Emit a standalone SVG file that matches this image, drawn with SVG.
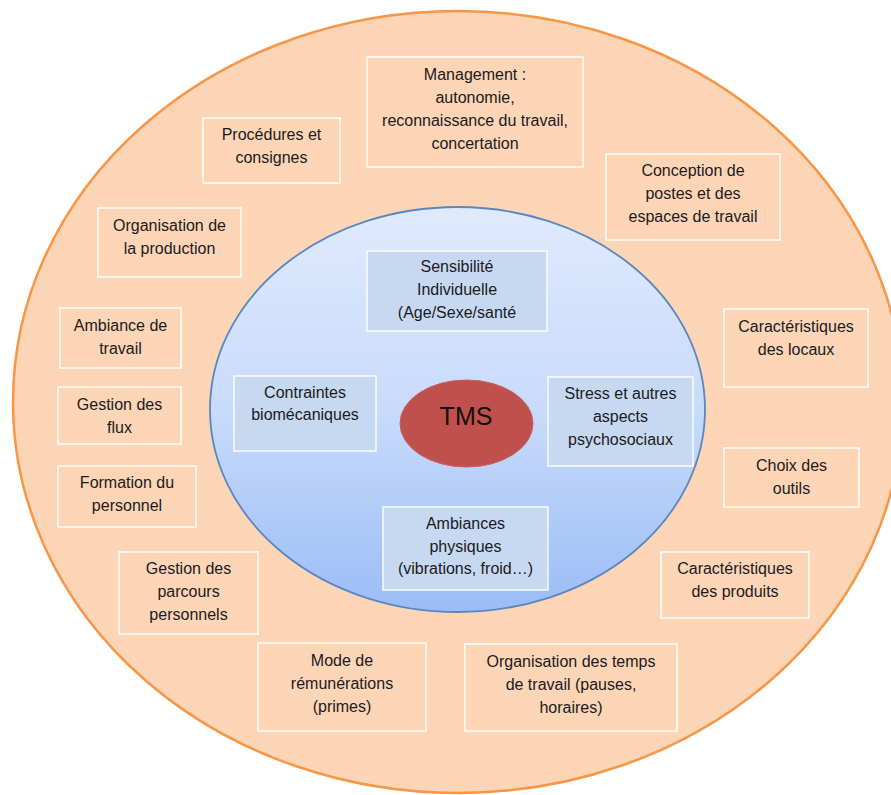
<svg xmlns="http://www.w3.org/2000/svg" width="891" height="795" viewBox="0 0 891 795">
  <style>
    .lbl { font-family: "Liberation Sans", Arial, sans-serif; font-size: 16px; fill: #1c1a22; text-anchor: middle; }
    .outer { fill: none; stroke: #ffffff; stroke-width: 1.6; stroke-opacity: 0.9; }
    .inner { fill: #c6d9f1; stroke: #ffffff; stroke-width: 1.6; stroke-opacity: 0.85; }
    .tms { font-family: "Liberation Sans", Arial, sans-serif; font-size: 25px; fill: #111111; text-anchor: middle; }
  </style>
  <defs>
    <linearGradient id="blueFill" x1="0" y1="0" x2="0" y2="1">
      <stop offset="0" stop-color="#dfeafd"/>
      <stop offset="0.5" stop-color="#c8dbfb"/>
      <stop offset="1" stop-color="#9bbcf6"/>
    </linearGradient>
  </defs>

  <rect width="891" height="795" fill="#ffffff"/>

  <!-- outer ring: organisational factors -->
  <ellipse id="outer-ring" cx="458" cy="402" rx="445" ry="391" fill="#fbd5b5" stroke="#f79646" stroke-width="2.5"/>

  <!-- inner ring: direct factors -->
  <ellipse id="inner-ring" cx="457.5" cy="409.5" rx="247.5" ry="202.5" fill="url(#blueFill)" stroke="#5a87c2" stroke-width="1.8"/>

  <!-- centre -->
  <g id="tms">
    <ellipse cx="466.5" cy="423.5" rx="66.5" ry="43.5" fill="#c0504d" stroke="#c8605d" stroke-width="1"/>
    <text class="tms" x="466" y="425">TMS</text>
  </g>

  <!-- direct factors -->
  <g id="sensibilite">
    <rect class="inner" x="367" y="251" width="180" height="80"/>
    <text class="lbl" x="457" y="272">Sensibilité</text>
    <text class="lbl" x="457" y="295">Individuelle</text>
    <text class="lbl" x="457" y="318">(Age/Sexe/santé</text>
  </g>
  <g id="contraintes">
    <rect class="inner" x="234" y="376" width="142" height="75"/>
    <text class="lbl" x="305" y="398">Contraintes</text>
    <text class="lbl" x="305" y="420">biomécaniques</text>
  </g>
  <g id="stress">
    <rect class="inner" x="548" y="377" width="145" height="89"/>
    <text class="lbl" x="620.5" y="399">Stress et autres</text>
    <text class="lbl" x="620.5" y="422">aspects</text>
    <text class="lbl" x="620.5" y="445">psychosociaux</text>
  </g>
  <g id="ambiances">
    <rect class="inner" x="383" y="507" width="165" height="83"/>
    <text class="lbl" x="465.5" y="529">Ambiances</text>
    <text class="lbl" x="465.5" y="552">physiques</text>
    <text class="lbl" x="465.5" y="574">(vibrations, froid…)</text>
  </g>

  <!-- organisational factors -->
  <g id="management">
    <rect class="outer" x="367" y="57" width="216" height="110"/>
    <text class="lbl" x="475" y="80">Management :</text>
    <text class="lbl" x="475" y="103">autonomie,</text>
    <text class="lbl" x="475" y="126">reconnaissance du travail,</text>
    <text class="lbl" x="475" y="149">concertation</text>
  </g>
  <g id="procedures">
    <rect class="outer" x="203" y="118" width="137" height="65"/>
    <text class="lbl" x="271.5" y="140">Procédures et</text>
    <text class="lbl" x="271.5" y="163">consignes</text>
  </g>
  <g id="organisation-production">
    <rect class="outer" x="98" y="208" width="143" height="69"/>
    <text class="lbl" x="169.5" y="231">Organisation de</text>
    <text class="lbl" x="169.5" y="254">la production</text>
  </g>
  <g id="conception">
    <rect class="outer" x="606" y="154" width="174" height="86"/>
    <text class="lbl" x="693" y="176">Conception de</text>
    <text class="lbl" x="693" y="199">postes et des</text>
    <text class="lbl" x="693" y="222">espaces de travail</text>
  </g>
  <g id="ambiance-travail">
    <rect class="outer" x="60" y="308" width="121" height="60"/>
    <text class="lbl" x="120.5" y="331">Ambiance de</text>
    <text class="lbl" x="120.5" y="354">travail</text>
  </g>
  <g id="gestion-flux">
    <rect class="outer" x="58" y="387" width="123" height="57"/>
    <text class="lbl" x="119.5" y="410">Gestion des</text>
    <text class="lbl" x="119.5" y="433">flux</text>
  </g>
  <g id="formation">
    <rect class="outer" x="58" y="466" width="138" height="61"/>
    <text class="lbl" x="127" y="488">Formation du</text>
    <text class="lbl" x="127" y="511">personnel</text>
  </g>
  <g id="parcours">
    <rect class="outer" x="119" y="552" width="139" height="82"/>
    <text class="lbl" x="188.5" y="574">Gestion des</text>
    <text class="lbl" x="188.5" y="597">parcours</text>
    <text class="lbl" x="188.5" y="620">personnels</text>
  </g>
  <g id="locaux">
    <rect class="outer" x="724" y="309" width="144" height="78"/>
    <text class="lbl" x="796" y="332">Caractéristiques</text>
    <text class="lbl" x="796" y="355">des locaux</text>
  </g>
  <g id="outils">
    <rect class="outer" x="724" y="448" width="135" height="59"/>
    <text class="lbl" x="791.5" y="471">Choix des</text>
    <text class="lbl" x="791.5" y="494">outils</text>
  </g>
  <g id="produits">
    <rect class="outer" x="661" y="552" width="148" height="66"/>
    <text class="lbl" x="735" y="574">Caractéristiques</text>
    <text class="lbl" x="735" y="597">des produits</text>
  </g>
  <g id="remuneration">
    <rect class="outer" x="258" y="643" width="168" height="88"/>
    <text class="lbl" x="342" y="666">Mode de</text>
    <text class="lbl" x="342" y="689">rémunérations</text>
    <text class="lbl" x="342" y="712">(primes)</text>
  </g>
  <g id="temps-travail">
    <rect class="outer" x="465" y="644" width="212" height="87"/>
    <text class="lbl" x="571" y="667">Organisation des temps</text>
    <text class="lbl" x="571" y="690">de travail (pauses,</text>
    <text class="lbl" x="571" y="713">horaires)</text>
  </g>
</svg>
